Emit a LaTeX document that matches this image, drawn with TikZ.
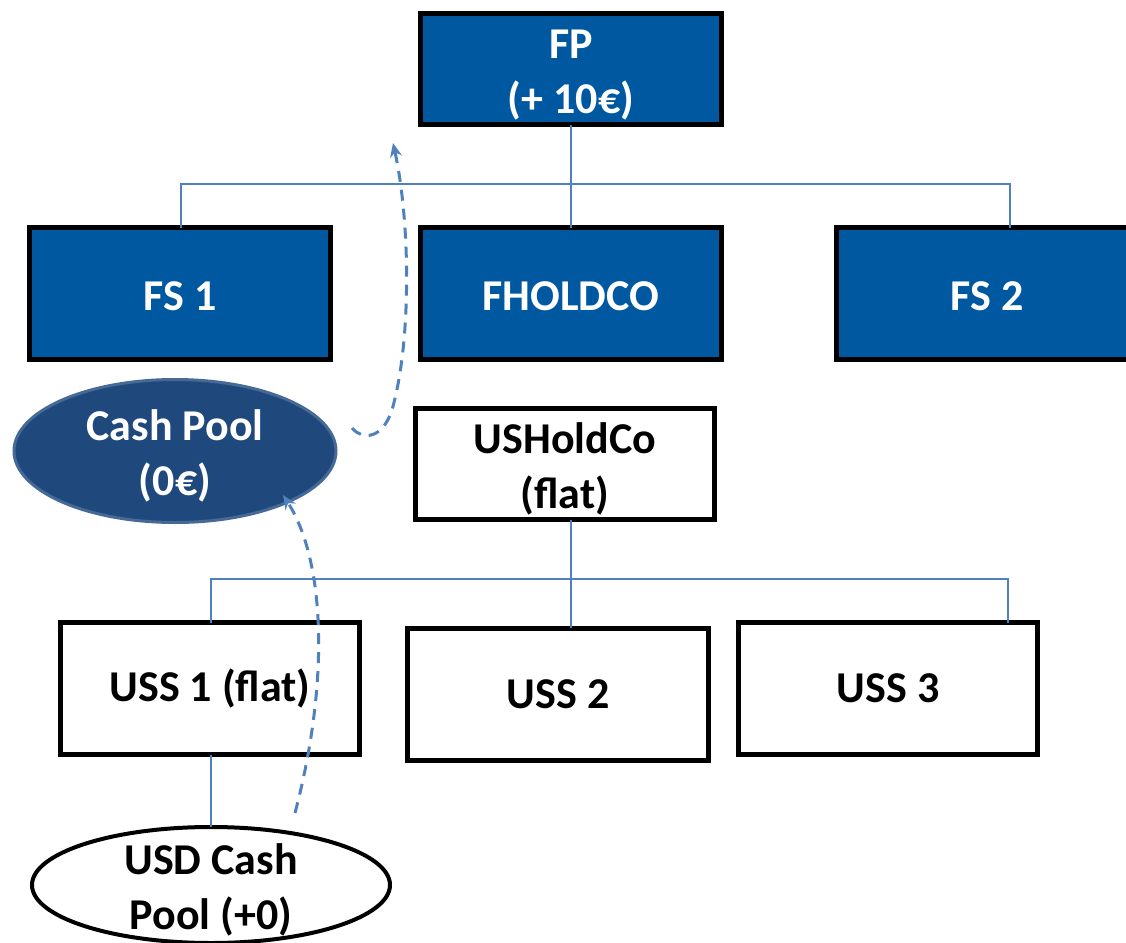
\documentclass[tikz,border=0pt]{standalone}
\usepackage{fontspec}
\setmainfont{Carlito}
\usetikzlibrary{shapes.geometric,arrows.meta,calc}
\definecolor{boxblue}{RGB}{0,88,160}
\definecolor{poolblue}{RGB}{31,73,125}
\definecolor{pooledge}{RGB}{70,105,150}
\definecolor{linkblue}{RGB}{79,129,189}
\newcommand\mytopstrut{\rule{0pt}{20pt}}
\tikzset{
  txt/.style={font=\fontsize{22}{27.5}\selectfont\bfseries, align=center},
  bluebox/.style={txt, rectangle, draw=black, line width=2.5pt, fill=boxblue, text=white, inner sep=0pt, outer sep=0pt},
  whitebox/.style={txt, rectangle, draw=black, line width=2.5pt, fill=white, text=black, inner sep=0pt, outer sep=0pt},
  bluepool/.style={txt, ellipse, draw=pooledge, line width=1.5pt, fill=poolblue, text=white, inner xsep=0pt, inner ysep=-4pt, outer sep=0pt},
  whitepool/.style={txt, ellipse, draw=black, line width=2pt, fill=white, text=black, inner xsep=0pt, inner ysep=-8pt, outer sep=0pt},
  conn/.style={draw=linkblue, line width=0.8pt},
  flow/.style={draw=linkblue, line width=1.5pt, dash pattern=on 5.5pt off 4pt, -{Stealth[length=7pt,width=6pt]}},
}
\begin{document}
\begin{tikzpicture}[x=0.5pt,y=-0.5pt]
\useasboundingbox (0,0) rectangle (1126,943);
% top level
\node[bluebox, minimum width=150.5pt, minimum height=55.5pt] (fp) at (571,69) {\mytopstrut FP\\(+ 10€)};
\node[bluebox, minimum width=150.5pt, minimum height=66pt] (fs1) at (180,293.5) {\rule{0pt}{17pt}FS 1};
\node[bluebox, minimum width=150.5pt, minimum height=66pt] (fh) at (571,293.5) {\rule{0pt}{17pt}FHOLDCO};
\node[bluebox, minimum width=150.5pt, minimum height=66pt] (fs2) at (987,293.5) {\rule{0pt}{17pt}FS 2};
\node[bluepool, minimum width=161pt, minimum height=71.5pt] (cp) at (175,451) {\mytopstrut Cash Pool\\(0€)};
\node[whitebox, minimum width=149.5pt, minimum height=55.5pt] (ush) at (565,464) {\mytopstrut USHoldCo\\(flat)};
\node[whitebox, minimum width=149.5pt, minimum height=66pt] (uss1) at (210,688.5) {USS 1 (flat)};
\node[whitebox, minimum width=150.5pt, minimum height=66pt] (uss2) at (558,694) {USS 2};
\node[whitebox, minimum width=149.5pt, minimum height=66pt] (uss3) at (888,688.5) {USS 3};
\node[whitepool, minimum width=179pt, minimum height=58pt] (usd) at (211,885) {\mytopstrut USD Cash\\Pool (+0)};
% bus coordinates
\coordinate (b1) at (571,184);
\coordinate (d1) at (181,184);
\coordinate (d3) at (1010,184);
\coordinate (b2) at (571,579);
\coordinate (e1) at (211,579);
\coordinate (e3) at (1008,579);
% tree connectors
\draw[conn] (fp.south -| b1) -- (fh.north -| b1);
\draw[conn] (fs1.north -| d1) -- (d1) -- (d3) -- (fs2.north -| d3);
\draw[conn] (ush.south -| b2) -- (uss2.north -| b2);
\draw[conn] (uss1.north -| e1) -- (e1) -- (e3) -- (uss3.north -| e3);
\draw[conn] (uss1.south -| usd.north) -- (usd.north);
% cash flows
\coordinate (s1) at (295,813);
\coordinate (t1) at (283,495);
\coordinate (s2) at (352,428);
\coordinate (t2) at (393,143);
\draw[flow] (s1) .. controls (330,680) and (325,560) .. (t1);
\draw[flow] (s2) .. controls (362,440) and (382,440) .. (392,410) .. controls (412,340) and (410,220) .. (t2);
\end{tikzpicture}
\end{document}
